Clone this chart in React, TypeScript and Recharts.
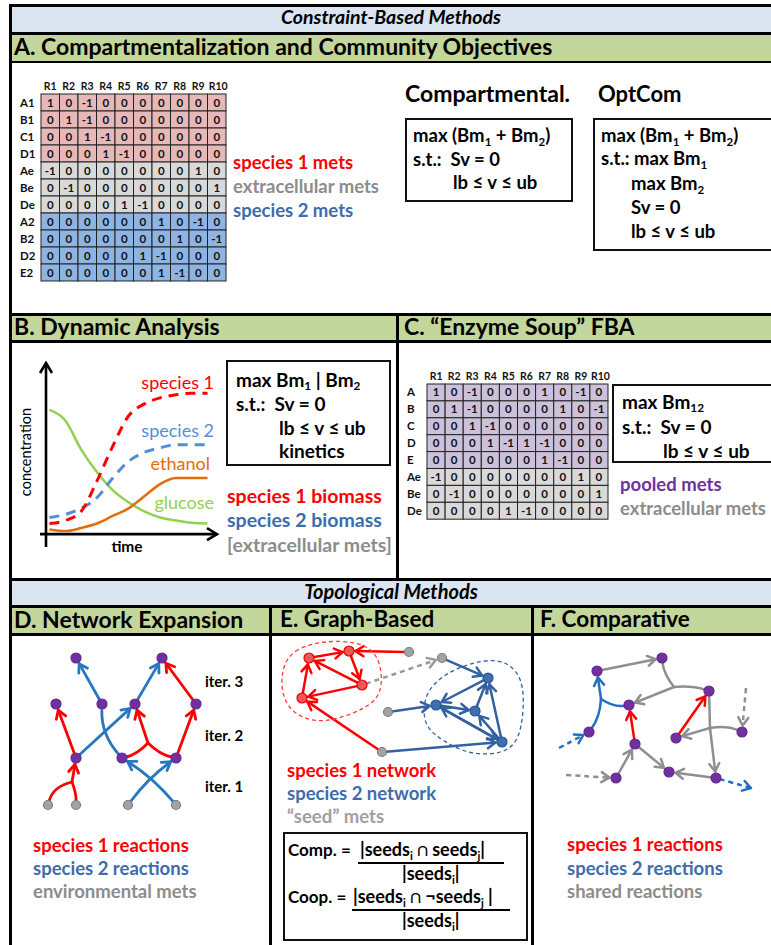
import React from 'react';
import { LineChart, Line, XAxis, YAxis, ReferenceLine, ScatterChart, Scatter } from 'recharts';

const FONT = 'Lato, "Noto Sans", sans-serif';
const RED = '#ff0000';
const BLUE_TXT = '#3d6cac';
const GRAY_TXT = '#8c8c8c';
const PURPLE = '#7030a0';
const HEAD_BLUE = '#dbe5f1';
const HEAD_GREEN = '#c3d69b';

// ---------- Panel A / C : stoichiometric matrices ----------
const reactionLabels = ['R1', 'R2', 'R3', 'R4', 'R5', 'R6', 'R7', 'R8', 'R9', 'R10'];
const compRows = ['A1', 'B1', 'C1', 'D1', 'Ae', 'Be', 'De', 'A2', 'B2', 'D2', 'E2'];
const compGroups = ['sp1', 'sp1', 'sp1', 'sp1', 'ext', 'ext', 'ext', 'sp2', 'sp2', 'sp2', 'sp2'];
const compMatrix = [
  [1, 0, -1, 0, 0, 0, 0, 0, 0, 0],
  [0, 1, -1, 0, 0, 0, 0, 0, 0, 0],
  [0, 0, 1, -1, 0, 0, 0, 0, 0, 0],
  [0, 0, 0, 1, -1, 0, 0, 0, 0, 0],
  [-1, 0, 0, 0, 0, 0, 0, 0, 1, 0],
  [0, -1, 0, 0, 0, 0, 0, 0, 0, 1],
  [0, 0, 0, 0, 1, -1, 0, 0, 0, 0],
  [0, 0, 0, 0, 0, 0, 1, 0, -1, 0],
  [0, 0, 0, 0, 0, 0, 0, 1, 0, -1],
  [0, 0, 0, 0, 0, 1, -1, 0, 0, 0],
  [0, 0, 0, 0, 0, 0, 1, -1, 0, 0],
];
const soupRows = ['A', 'B', 'C', 'D', 'E', 'Ae', 'Be', 'De'];
const soupGroups = ['pool', 'pool', 'pool', 'pool', 'pool', 'ext', 'ext', 'ext'];
const soupMatrix = [
  [1, 0, -1, 0, 0, 0, 1, 0, -1, 0],
  [0, 1, -1, 0, 0, 0, 0, 1, 0, -1],
  [0, 0, 1, -1, 0, 0, 0, 0, 0, 0],
  [0, 0, 0, 1, -1, 1, -1, 0, 0, 0],
  [0, 0, 0, 0, 0, 0, 1, -1, 0, 0],
  [-1, 0, 0, 0, 0, 0, 0, 0, 1, 0],
  [0, -1, 0, 0, 0, 0, 0, 0, 0, 1],
  [0, 0, 0, 0, 1, -1, 0, 0, 0, 0],
];
const cellFill: Record<string, string> = { sp1: '#e6b9b8', ext: '#d9d9d9', sp2: '#8eb4e3', pool: '#ccc1da' };

// ---------- Panel B : dynamic simulation ----------
const timeSteps = [0, 1, 2, 3, 4, 5, 6, 7, 8, 9, 10];
const glucose = [82, 75, 56, 41, 29, 21, 15, 11, 9, 7.5, 7];
const species1 = [7, 9, 15, 35, 58, 78, 86, 90, 92, 93, 93];
const species2 = [11, 13, 17, 24, 37, 48, 54, 57, 59, 59, 59];
const ethanol = [3, 2, 4, 7, 12, 17, 25, 33, 37, 37, 37];

// ---------- Panel D : network expansion (layout coordinates) ----------
const expNodes = [
  { id: 'n1', x: 64, y: 22, kind: 'purple' },
  { id: 'n2', x: 150, y: 22, kind: 'purple' },
  { id: 'm1', x: 44, y: 68, kind: 'purple' },
  { id: 'm2', x: 90, y: 68, kind: 'purple' },
  { id: 'm3', x: 123, y: 68, kind: 'purple' },
  { id: 'm4', x: 184, y: 68, kind: 'purple' },
  { id: 'l1', x: 64, y: 122, kind: 'purple' },
  { id: 'l2', x: 110, y: 122, kind: 'purple' },
  { id: 'l3', x: 164, y: 122, kind: 'purple' },
  { id: 'g1', x: 36, y: 169, kind: 'gray' },
  { id: 'g2', x: 64, y: 169, kind: 'gray' },
  { id: 'g3', x: 116, y: 169, kind: 'gray' },
  { id: 'g4', x: 164, y: 169, kind: 'gray' },
  { id: 'j1', x: 60, y: 146, kind: 'junction' },
  { id: 'j2', x: 136, y: 107, kind: 'junction' },
];
const expEdges = [
  { from: 'g1', to: 'j1', c: 'red', bend: -0.3 },
  { from: 'g2', to: 'j1', c: 'red', bend: 0.1 },
  { from: 'j1', to: 'l1', c: 'red', arrow: true },
  { from: 'l1', to: 'm1', c: 'red', arrow: true },
  { from: 'l1', to: 'm3', c: 'blue', arrow: true },
  { from: 'l2', to: 'm2', c: 'blue', bend: -0.2 },
  { from: 'm2', to: 'n1', c: 'blue', arrow: true },
  { from: 'l2', to: 'j2', c: 'red', bend: 0.15 },
  { from: 'l3', to: 'j2', c: 'red', bend: -0.15 },
  { from: 'j2', to: 'm3', c: 'red', arrow: true },
  { from: 'l3', to: 'm4', c: 'red', arrow: true },
  { from: 'm4', to: 'n2', c: 'red', arrow: true },
  { from: 'm3', to: 'n2', c: 'blue', arrow: true },
  { from: 'g3', to: 'l3', c: 'blue', arrow: true, bend: -0.08 },
  { from: 'g4', to: 'l2', c: 'blue', arrow: true, bend: 0.08 },
];

// ---------- Panel E : graph-based ----------
const graphNodes = [
  { id: 'r1', x: 37, y: 22, kind: 'red' },
  { id: 'r2', x: 77, y: 15, kind: 'red' },
  { id: 'r3', x: 90, y: 49, kind: 'red' },
  { id: 'r4', x: 30, y: 62, kind: 'red' },
  { id: 's1', x: 137, y: 16, kind: 'gray' },
  { id: 's2', x: 170, y: 22, kind: 'gray' },
  { id: 's3', x: 116, y: 76, kind: 'gray' },
  { id: 's4', x: 110, y: 116, kind: 'gray' },
  { id: 'b1', x: 216, y: 42, kind: 'blue' },
  { id: 'b2', x: 164, y: 69, kind: 'blue' },
  { id: 'b3', x: 203, y: 75, kind: 'blue' },
  { id: 'b4', x: 230, y: 106, kind: 'blue' },
];
const graphEdges = [
  { from: 'r1', to: 'r2', c: 'red', arrow: true },
  { from: 's1', to: 'r2', c: 'red', arrow: true },
  { from: 'r2', to: 'r3', c: 'red', arrow: true },
  { from: 'r3', to: 'r1', c: 'red', arrow: true },
  { from: 'r4', to: 'r1', c: 'red', arrow: true },
  { from: 'r3', to: 'r4', c: 'red', arrow: true },
  { from: 's4', to: 'r4', c: 'red', arrow: true },
  { from: 'r3', to: 's2', c: 'gray', arrow: true, dashed: true },
  { from: 's2', to: 'b1', c: 'blue', arrow: true },
  { from: 'b1', to: 'b2', c: 'blue', arrow: true },
  { from: 's3', to: 'b2', c: 'blue', arrow: true },
  { from: 'b2', to: 'b3', c: 'blue', arrow: true },
  { from: 'b3', to: 'b1', c: 'blue', arrow: true },
  { from: 'b4', to: 'b1', c: 'blue', arrow: true },
  { from: 'b2', to: 'b4', c: 'blue', arrow: true },
  { from: 'b4', to: 'b2', c: 'blue', arrow: true },
  { from: 'b4', to: 'b3', c: 'blue', arrow: true },
  { from: 's4', to: 'b4', c: 'blue', arrow: true },
];
const species1Outline = [
  { x: 10, y: 31 }, { x: 21, y: 14 }, { x: 48, y: 5 }, { x: 85, y: 5 }, { x: 106, y: 17 },
  { x: 111, y: 44 }, { x: 106, y: 65 }, { x: 81, y: 78 }, { x: 48, y: 88 }, { x: 20, y: 78 }, { x: 9, y: 57 },
];
const species2Outline = [
  { x: 151, y: 74 }, { x: 155, y: 54 }, { x: 175, y: 36 }, { x: 205, y: 25 }, { x: 232, y: 23 },
  { x: 251, y: 41 }, { x: 252, y: 74 }, { x: 247, y: 105 }, { x: 231, y: 118 }, { x: 198, y: 119 },
  { x: 171, y: 105 }, { x: 154, y: 92 },
];

// ---------- Panel F : comparative ----------
const cmpNodes = [
  { id: 'p1', x: 63, y: 35, kind: 'purple' },
  { id: 'p2', x: 128, y: 22, kind: 'purple' },
  { id: 'p3', x: 175, y: 55, kind: 'purple' },
  { id: 'p4', x: 95, y: 69, kind: 'purple' },
  { id: 'p5', x: 55, y: 96, kind: 'purple' },
  { id: 'p6', x: 142, y: 102, kind: 'purple' },
  { id: 'p7', x: 208, y: 96, kind: 'purple' },
  { id: 'p8', x: 101, y: 108, kind: 'purple' },
  { id: 'p9', x: 82, y: 142, kind: 'purple' },
  { id: 'p10', x: 135, y: 136, kind: 'purple' },
  { id: 'p11', x: 182, y: 142, kind: 'purple' },
  { id: 'jf1', x: 140, y: 51, kind: 'junction' },
  { id: 'jf2', x: 67, y: 63, kind: 'junction' },
  { id: 'jf3', x: 176, y: 92, kind: 'junction' },
  { id: 'd1', x: 25, y: 112, kind: 'junction' },
  { id: 'd2', x: 212, y: 52, kind: 'junction' },
  { id: 'd3', x: 32, y: 139, kind: 'junction' },
  { id: 'd4', x: 217, y: 152, kind: 'junction' },
];
const cmpEdges = [
  { from: 'p1', to: 'p2', c: 'gray', arrow: true },
  { from: 'p2', to: 'jf1', c: 'gray', bend: 0.15 },
  { from: 'p3', to: 'jf1', c: 'gray', bend: 0.1 },
  { from: 'jf1', to: 'p4', c: 'gray', arrow: true },
  { from: 'p5', to: 'jf2', c: 'blue', bend: 0.15 },
  { from: 'p4', to: 'jf2', c: 'blue', bend: -0.2 },
  { from: 'jf2', to: 'p1', c: 'blue', arrow: true },
  { from: 'p8', to: 'p4', c: 'red', arrow: true },
  { from: 'p6', to: 'p3', c: 'red', arrow: true },
  { from: 'p3', to: 'jf3', c: 'gray' },
  { from: 'p7', to: 'jf3', c: 'gray', bend: 0.15 },
  { from: 'jf3', to: 'p6', c: 'gray', arrow: true },
  { from: 'jf3', to: 'p11', c: 'gray', arrow: true },
  { from: 'p9', to: 'p8', c: 'gray', arrow: true },
  { from: 'p8', to: 'p10', c: 'gray', arrow: true },
  { from: 'p11', to: 'p10', c: 'gray', arrow: true },
  { from: 'd1', to: 'p5', c: 'blue', arrow: true, dashed: true },
  { from: 'd2', to: 'p7', c: 'gray', arrow: true, dashed: true },
  { from: 'd3', to: 'p9', c: 'gray', arrow: true, dashed: true },
  { from: 'p11', to: 'd4', c: 'blue', arrow: true, dashed: true },
];

// ---------------- helpers ----------------
type TP = { x: number; cy: number; size?: number; color?: string; bold?: boolean; italic?: boolean; anchor?: 'start' | 'middle' | 'end'; children: any };
function T({ x, cy, size = 18.5, color = '#000', bold = true, italic = false, anchor = 'start', children }: TP) {
  const style: React.CSSProperties = {
    position: 'absolute', top: cy - size * 0.655, fontSize: size, lineHeight: `${size * 1.15}px`, color,
    fontWeight: bold ? 700 : 400, fontStyle: italic ? 'italic' : 'normal', whiteSpace: 'nowrap', fontFamily: FONT,
  };
  if (anchor === 'start') style.left = x;
  else if (anchor === 'end') style.right = 771 - x;
  else { style.left = x; style.transform = 'translateX(-50%)'; }
  return <div style={style}>{children}</div>;
}
const Sub = ({ children }: any) => <span style={{ fontSize: '0.62em', position: 'relative', top: '0.32em' }}>{children}</span>;
const R = ({ l, t, w, h, bg = '#000' }: any) => <div style={{ position: 'absolute', left: l, top: t, width: w, height: h, background: bg }} />;
const Box = ({ l, t, w, h }: any) => <div style={{ position: 'absolute', left: l, top: t, width: w, height: h, border: '2px solid #111', boxSizing: 'border-box' }} />;

function MatrixChart({ x0, y0, cw, ch, rows, groups, matrix, labelX }: any) {
  const nC = reactionLabels.length, nR = rows.length;
  const ml = 12, yw = 28, mt = 4, xh = 16;
  const width = ml + yw + nC * cw + 8;
  const height = mt + xh + nR * ch + 4;
  const data: any[] = [];
  matrix.forEach((row: number[], r: number) => row.forEach((v, c) => data.push({ c, r, v, g: groups[r] })));
  const left = x0 - ml - yw;
  return (
    <div style={{ position: 'absolute', left, top: y0 - mt - xh }}>
      <ScatterChart width={width} height={height} margin={{ top: mt, left: ml, right: 8, bottom: 4 }}>
        <XAxis type="number" dataKey="c" orientation="top" domain={[-0.5, nC - 0.5]} ticks={reactionLabels.map((_, i) => i)}
          interval={0} height={xh} axisLine={false} tickLine={false} tickSize={0}
          tick={(p: any) => <text x={p.x + (p.payload.value === 9 ? 1.5 : 0)} y={mt + xh - 4} textAnchor="middle" fontFamily={FONT} fontWeight={700} fontSize={10.5} fill="#111">{reactionLabels[p.payload.value]}</text>} />
        <YAxis type="number" dataKey="r" domain={[-0.5, nR - 0.5]} reversed ticks={rows.map((_: any, i: number) => i)}
          interval={0} width={yw} axisLine={false} tickLine={false} tickSize={0}
          tick={(p: any) => <text x={labelX - left} y={p.y + 4} textAnchor="start" fontFamily={FONT} fontWeight={700} fontSize={11.5} fill="#111">{rows[p.payload.value]}</text>} />
        <Scatter data={data} isAnimationActive={false}
          shape={(p: any) => (
            <g>
              <rect x={p.cx - cw / 2} y={p.cy - ch / 2} width={cw} height={ch} fill={cellFill[p.payload.g]} stroke="#222" strokeWidth={1} />
              <text x={p.cx} y={p.cy + 4} textAnchor="middle" fontFamily={FONT} fontWeight={700} fontSize={11.5} fill="#111">{p.payload.v}</text>
            </g>
          )} />
      </ScatterChart>
    </div>
  );
}

function makeEdgeShape(e: any, shortenStart: boolean, shortenEnd: boolean, color: string, sw: number) {
  return (p: any) => {
    const { x1, y1, x2, y2 } = p;
    const dx = x2 - x1, dy = y2 - y1;
    const b = e.bend || 0;
    const cx = (x1 + x2) / 2 - b * dy, cy = (y1 + y2) / 2 + b * dx;
    let ux = cx - x1, uy = cy - y1; const ul = Math.hypot(ux, uy) || 1; ux /= ul; uy /= ul;
    let vx = x2 - cx, vy = y2 - cy; const vl = Math.hypot(vx, vy) || 1; vx /= vl; vy /= vl;
    const r0 = shortenStart ? 4 : 0, r1 = shortenEnd ? 6.5 : 0;
    const sx = x1 + ux * r0, sy = y1 + uy * r0, ex = x2 - vx * r1, ey = y2 - vy * r1;
    const ah = 8, aw = 5;
    return (
      <g>
        <path d={`M${sx},${sy} Q${cx},${cy} ${ex},${ey}`} fill="none" stroke={color} strokeWidth={sw}
          strokeDasharray={e.dashed ? '5 4' : undefined} strokeLinecap={e.dashed ? 'butt' : 'round'} />
        {e.arrow && (
          <path d={`M${ex - vx * ah - vy * aw},${ey - vy * ah + vx * aw} L${ex},${ey} L${ex - vx * ah + vy * aw},${ey - vy * ah - vx * aw}`}
            fill="none" stroke={color} strokeWidth={sw} strokeLinecap="round" strokeLinejoin="round" />
        )}
      </g>
    );
  };
}

const nodeStyles: Record<string, any> = {
  purple: { r: 5, fill: '#7030a0', stroke: '#64288f' },
  gray: { r: 4.5, fill: '#a3a3a3', stroke: '#7c7c7c' },
  red: { r: 5, fill: '#f25757', stroke: '#e00000' },
  blue: { r: 5, fill: '#3d6fb3', stroke: '#2a5590' },
};

function NetworkChart({ left, top, width, height, nodes, edges, palette, sw, outlines = [] }: any) {
  const byId: Record<string, any> = {};
  nodes.forEach((n: any) => { byId[n.id] = n; });
  const visible = nodes.filter((n: any) => n.kind !== 'junction');
  return (
    <div style={{ position: 'absolute', left, top }}>
      <ScatterChart width={width} height={height} margin={{ top: 0, right: 0, bottom: 0, left: 0 }}>
        <XAxis type="number" dataKey="x" domain={[0, width]} hide />
        <YAxis type="number" dataKey="y" domain={[0, height]} reversed hide />
        {outlines.map((o: any, i: number) => (
          <Scatter key={'o' + i} data={o.points} isAnimationActive={false} lineJointType="basisClosed"
            line={{ stroke: o.color, strokeDasharray: '4 3', strokeWidth: 1.3, fill: 'none' }} shape={() => <g />} />
        ))}
        {edges.map((e: any, i: number) => {
          const a = byId[e.from], b = byId[e.to];
          return (
            <ReferenceLine key={i} segment={[{ x: a.x, y: a.y }, { x: b.x, y: b.y }]} ifOverflow="visible"
              shape={makeEdgeShape(e, a.kind !== 'junction', b.kind !== 'junction', palette[e.c], sw)} />
          );
        })}
        <Scatter data={visible} isAnimationActive={false}
          shape={(p: any) => {
            const s = nodeStyles[p.payload.kind];
            return <circle cx={p.cx} cy={p.cy} r={s.r} fill={s.fill} stroke={s.stroke} strokeWidth={1.2} />;
          }} />
      </ScatterChart>
    </div>
  );
}

function axisArrow(p: any) {
  const { x1, y1, x2, y2 } = p;
  const L = Math.hypot(x2 - x1, y2 - y1) || 1;
  const vx = (x2 - x1) / L, vy = (y2 - y1) / L;
  const ah = 10, aw = 6;
  return (
    <g>
      <line x1={x1} y1={y1} x2={x2} y2={y2} stroke="#000" strokeWidth={2.6} />
      <path d={`M${x2 - vx * ah - vy * aw},${y2 - vy * ah + vx * aw} L${x2},${y2} L${x2 - vx * ah + vy * aw},${y2 - vy * ah - vx * aw}`}
        fill="none" stroke="#000" strokeWidth={2.6} strokeLinejoin="miter" />
    </g>
  );
}

function DynamicChart() {
  const data = timeSteps.map((t, i) => ({ t, glucose: glucose[i], species1: species1[i], species2: species2[i], ethanol: ethanol[i] }));
  return (
    <div style={{ position: 'absolute', left: 0, top: 343 }}>
      <LineChart width={230} height={217} data={data} margin={{ top: 20, right: 13, bottom: 13, left: 40 }}>
        <XAxis dataKey="t" type="number" domain={[-0.6, 10.6]} hide />
        <YAxis type="number" domain={[-8.5, 113]} hide />
        <ReferenceLine segment={[{ x: -0.6, y: 0 }, { x: 10.6, y: 0 }]} ifOverflow="visible" shape={axisArrow} />
        <ReferenceLine segment={[{ x: -0.22, y: -8.5 }, { x: -0.22, y: 113 }]} ifOverflow="visible" shape={axisArrow} />
        <Line dataKey="glucose" type="monotone" stroke="#92d050" strokeWidth={2.5} dot={false} isAnimationActive={false} />
        <Line dataKey="ethanol" type="monotone" stroke="#e46c0a" strokeWidth={2.5} dot={false} isAnimationActive={false} />
        <Line dataKey="species2" type="monotone" stroke="#558ed5" strokeWidth={3} strokeDasharray="10 7" dot={false} isAnimationActive={false} />
        <Line dataKey="species1" type="monotone" stroke="#ff0000" strokeWidth={3} strokeDasharray="10 7" dot={false} isAnimationActive={false} />
      </LineChart>
    </div>
  );
}

export default function App() {
  return (
    <div style={{ position: 'absolute', left: 0, top: 0, width: 771, height: 945, overflow: 'hidden', background: '#fff', fontFamily: FONT }}>
      {/* header bands */}
      <R l={12} t={7} w={759} h={25} bg={HEAD_BLUE} />
      <R l={12} t={35} w={759} h={26} bg={HEAD_GREEN} />
      <R l={12} t={316} w={384} h={24} bg={HEAD_GREEN} />
      <R l={399} t={316} w={372} h={24} bg={HEAD_GREEN} />
      <R l={12} t={581} w={759} h={24} bg={HEAD_BLUE} />
      <R l={12} t={608} w={257} h={25} bg={HEAD_GREEN} />
      <R l={272} t={608} w={259} h={25} bg={HEAD_GREEN} />
      <R l={534} t={608} w={237} h={25} bg={HEAD_GREEN} />
      {/* frame lines */}
      <R l={9} t={4} w={762} h={3} />
      <R l={9} t={32} w={762} h={3} />
      <R l={9} t={61} w={762} h={2} />
      <R l={9} t={313} w={762} h={3} />
      <R l={9} t={340} w={762} h={3} />
      <R l={9} t={578} w={762} h={3} />
      <R l={9} t={605} w={762} h={3} />
      <R l={9} t={633} w={762} h={3} />
      <R l={9} t={4} w={3} h={941} />
      <R l={396} t={313} w={3} h={268} />
      <R l={269} t={605} w={3} h={340} />
      <R l={531} t={605} w={3} h={340} />

      <T x={391} cy={19} size={19.5} italic anchor="middle">Constraint-Based Methods</T>
      <T x={14} cy={48} size={23}>A. Compartmentalization and Community Objectives</T>
      <T x={14} cy={328} size={23}>B. Dynamic Analysis</T>
      <T x={404} cy={328} size={23}>C. “Enzyme Soup” FBA</T>
      <T x={391} cy={593} size={20} italic anchor="middle">Topological Methods</T>
      <T x={14} cy={621} size={23}>D. Network Expansion</T>
      <T x={280} cy={621} size={22.5}>E. Graph-Based</T>
      <T x={540} cy={621} size={22.5}>F. Comparative</T>

      {/* Panel A */}
      <MatrixChart x0={41} y0={94} cw={18.5} ch={17} rows={compRows} groups={compGroups} matrix={compMatrix} labelX={20} />
      <T x={233} cy={164} color={RED}>species 1 mets</T>
      <T x={233} cy={188} color={GRAY_TXT}>extracellular mets</T>
      <T x={233} cy={212} color={BLUE_TXT}>species 2 mets</T>

      <T x={405} cy={95} size={23}>Compartmental.</T>
      <T x={598} cy={95} size={22}>OptCom</T>
      <Box l={405} t={118} w={168} h={84} />
      <T x={413} cy={137}>max (Bm<Sub>1</Sub> + Bm<Sub>2</Sub>)</T>
      <T x={413} cy={161}>s.t.:&nbsp;&nbsp;Sv = 0</T>
      <T x={453} cy={184}>lb ≤ v ≤ ub</T>
      <Box l={593} t={118} w={190} h={133} />
      <T x={601} cy={137}>max (Bm<Sub>1</Sub> + Bm<Sub>2</Sub>)</T>
      <T x={601} cy={160}>s.t.: max Bm<Sub>1</Sub></T>
      <T x={631} cy={185}>max Bm<Sub>2</Sub></T>
      <T x={631} cy={209}>Sv = 0</T>
      <T x={631} cy={233}>lb ≤ v ≤ ub</T>

      {/* Panel B */}
      <DynamicChart />
      <div style={{ position: 'absolute', left: 26, top: 452, transform: 'translate(-50%, -50%) rotate(-90deg)', fontFamily: FONT, fontSize: 14.5, whiteSpace: 'nowrap', lineHeight: '16px' }}>concentration</div>
      <T x={127} cy={548} size={15.5} anchor="middle">time</T>
      <T x={214} cy={384} size={18} bold={false} color={RED} anchor="end">species 1</T>
      <T x={214} cy={432} size={18} bold={false} color="#558ed5" anchor="end">species 2</T>
      <T x={210} cy={465} size={18} bold={false} color="#e46c0a" anchor="end">ethanol</T>
      <T x={214} cy={504} size={18} bold={false} color="#92d050" anchor="end">glucose</T>
      <Box l={226} t={360} w={165} h={106} />
      <T x={236} cy={381} size={19}>max Bm<Sub>1</Sub> | Bm<Sub>2</Sub></T>
      <T x={236} cy={405} size={19}>s.t.:&nbsp;&nbsp;Sv = 0</T>
      <T x={279} cy={429} size={19}>lb ≤ v ≤ ub</T>
      <T x={279} cy={452} size={19}>kinetics</T>
      <T x={227} cy={498} size={19.5} color={RED}>species 1 biomass</T>
      <T x={227} cy={522} size={19.5} color={BLUE_TXT}>species 2 biomass</T>
      <T x={227} cy={547} size={19.5} color={GRAY_TXT}>[extracellular mets]</T>

      {/* Panel C */}
      <MatrixChart x0={427} y0={384} cw={18.1} ch={16.9} rows={soupRows} groups={soupGroups} matrix={soupMatrix} labelX={407} />
      <Box l={612} t={384} w={170} h={79} />
      <T x={622} cy={403} size={19}>max Bm<Sub>12</Sub></T>
      <T x={622} cy={428} size={19}>s.t.:&nbsp;&nbsp;Sv = 0</T>
      <T x={663} cy={452} size={19}>lb ≤ v ≤ ub</T>
      <T x={620} cy={486} size={18.5} color={PURPLE}>pooled mets</T>
      <T x={620} cy={510} size={18.5} color={GRAY_TXT}>extracellular mets</T>

      {/* Panel D */}
      <NetworkChart left={12} top={636} width={256} height={190} nodes={expNodes} edges={expEdges} sw={2.8}
        palette={{ red: '#ff0000', blue: '#2878c0', gray: '#999' }} />
      <T x={205} cy={683} size={15}>iter. 3</T>
      <T x={205} cy={737} size={15}>iter. 2</T>
      <T x={205} cy={788} size={15}>iter. 1</T>
      <T x={33} cy={847} color={RED}>species 1 reactions</T>
      <T x={33} cy={870} color={BLUE_TXT}>species 2 reactions</T>
      <T x={33} cy={893} color={GRAY_TXT}>environmental mets</T>

      {/* Panel E */}
      <NetworkChart left={272} top={636} width={259} height={128} nodes={graphNodes} edges={graphEdges} sw={2.5}
        palette={{ red: '#ff0000', blue: '#34619f', gray: '#9a9a9a' }}
        outlines={[{ points: species1Outline, color: '#ff3b3b' }, { points: species2Outline, color: '#34619f' }]} />
      <T x={287} cy={772} color={RED}>species 1 network</T>
      <T x={287} cy={795} color={BLUE_TXT}>species 2 network</T>
      <T x={287} cy={818} color="#a0a0a0">“seed” mets</T>
      <Box l={283} t={832} w={245} h={109} />
      <T x={288} cy={851} size={17}>Comp. =</T>
      <T x={360} cy={851} size={18}>|seeds<Sub>i</Sub> ∩ seeds<Sub>j</Sub>|</T>
      <R l={358} t={862} w={146} h={2} />
      <T x={402} cy={875} size={18}>|seeds<Sub>i</Sub>|</T>
      <T x={288} cy={898} size={17}>Coop. =</T>
      <T x={353} cy={898} size={18}>|seeds<Sub>i</Sub> ∩ ¬seeds<Sub>j</Sub> |</T>
      <R l={352} t={909} w={158} h={2} />
      <T x={402} cy={922} size={18}>|seeds<Sub>i</Sub>|</T>

      {/* Panel F */}
      <NetworkChart left={534} top={636} width={237} height={160} nodes={cmpNodes} edges={cmpEdges} sw={2.5}
        palette={{ red: '#ff0000', blue: '#1f70c1', gray: '#8f8f8f' }} />
      <T x={567} cy={846} color={RED}>species 1 reactions</T>
      <T x={567} cy={870} color={BLUE_TXT}>species 2 reactions</T>
      <T x={567} cy={893} color={GRAY_TXT}>shared reactions</T>
    </div>
  );
}
